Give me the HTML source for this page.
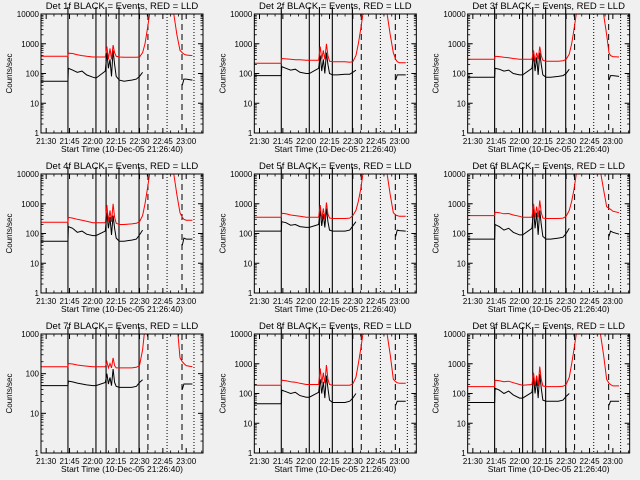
<!DOCTYPE html>
<html><head><meta charset="utf-8"><style>
html,body{margin:0;padding:0;background:#f0f0f0;}
svg{display:block;font-family:"Liberation Sans",sans-serif;}
</style></head><body>
<svg id="chart" width="640" height="480" viewBox="0 0 640 480" xmlns="http://www.w3.org/2000/svg">
<rect width="640" height="480" fill="#f0f0f0"/>
</svg>
<script>
// times in minutes after 21:30
const times = [-3.3,14,14.3,17,20,23,26,30,32,38,39,40,41,42,43,44,45,47,50,55,58,60,62,63.5,65,66.5,68,80,82,84,86,87.5,88.5,90,94];
const N = null;
const detNames = ["1f","2f","3f","4f","5f","6f","7f","8f","9f"];
const yMaxDecades = [4,4,4,4,4,4,3,4,4];
const yTickLabels4 = ["1","10","100","1000","10000"];
const yTickLabels3 = ["1","10","100","1000"];
const xTickLabels = ["21:30","21:45","22:00","22:15","22:30","22:45","23:00"];
const solidLines = [14.0,32.0,38.5,46.8,59.7];
const dashedLines = [65.4,87.3];
const dottedLines = [77.7,95.0];
const red1 = [380,380,480,470,430,400,380,360,360,360,800,300,700,300,900,500,380,360,350,350,350,360,500,1000,3000,10000,30000,30000,10000,2000,600,500,450,420,400];
const blk1 = [55,55,150,130,110,120,90,75,70,120,500,150,300,80,600,200,80,60,55,60,65,80,110,N,N,N,N,N,N,N,N,40,65,65,60];
const red2 = [220,220,320,310,300,290,290,280,280,280,800,300,600,300,1000,400,260,250,250,250,240,250,400,1000,3000,10000,30000,30000,10000,2000,500,300,250,230,230];
const blk2 = [85,85,170,150,130,140,110,100,100,150,400,120,300,100,500,200,100,90,90,95,95,110,130,N,N,N,N,N,N,N,N,60,90,90,90];
const red3 = [300,300,380,370,350,340,320,300,300,300,600,250,500,300,800,400,280,260,260,260,270,300,450,1000,3000,10000,30000,30000,30000,10000,2000,500,400,370,360];
const blk3 = [75,75,150,140,120,130,100,90,90,150,450,120,350,90,500,200,90,75,75,80,85,100,140,N,N,N,N,N,N,N,N,60,85,85,80];
const red4 = [240,240,350,330,300,280,260,230,230,230,900,250,600,250,1000,350,220,200,200,210,220,250,400,1000,3000,10000,30000,30000,10000,2000,500,350,300,280,280];
const blk4 = [55,55,170,150,110,120,95,85,85,120,500,150,350,90,400,150,70,55,55,60,65,90,130,N,N,N,N,N,N,N,N,40,70,65,65];
const red5 = [350,350,480,460,420,400,380,350,350,350,900,300,700,300,1100,450,330,320,320,320,330,400,600,1200,3000,10000,30000,30000,10000,2000,500,420,400,380,380];
const blk5 = [120,120,250,230,190,200,170,160,160,200,600,180,450,160,700,250,130,120,120,120,130,180,250,N,N,N,N,N,N,N,N,80,130,125,120];
const red6 = [400,400,520,500,460,470,420,380,350,350,1000,350,800,350,1300,500,330,320,320,320,330,380,600,1200,3000,10000,30000,30000,12000,3000,800,700,650,560,500];
const blk6 = [65,65,200,170,130,150,110,90,90,150,700,150,500,90,600,200,80,65,65,70,75,100,150,N,N,N,N,N,N,N,N,80,120,110,95];
const red7 = [150,150,180,175,165,160,155,150,150,150,200,140,180,140,250,160,140,140,140,140,145,160,400,1500,3000,10000,30000,30000,10000,2000,250,200,180,160,150];
const blk7 = [50,50,65,62,58,55,52,50,50,60,100,55,80,50,130,60,48,45,45,45,48,60,70,N,N,N,N,N,N,N,N,40,55,55,55];
const red8 = [190,190,280,270,250,240,220,200,200,200,700,220,500,220,900,300,200,190,190,190,190,210,350,1000,3000,10000,30000,30000,10000,2000,300,250,230,220,220];
const blk8 = [45,45,130,115,100,110,85,75,75,110,300,100,250,70,400,150,60,50,50,50,55,70,100,N,N,N,N,N,N,N,N,40,55,55,55];
const red9 = [170,170,280,270,250,260,230,200,190,200,500,180,400,180,800,300,180,170,170,170,175,200,350,1000,3000,10000,30000,30000,10000,2000,300,220,200,180,180];
const blk9 = [50,50,150,130,100,120,90,70,70,110,350,100,300,70,450,150,60,55,55,55,60,80,100,N,N,N,N,N,N,N,N,40,55,55,55];
const redSeries = [red1,red2,red3,red4,red5,red6,red7,red8,red9];
const blkSeries = [blk1,blk2,blk3,blk4,blk5,blk6,blk7,blk8,blk9];

const NS = "http://www.w3.org/2000/svg";
const svg = document.getElementById("chart");
function mk(tag, attrs, parent){ const e=document.createElementNS(NS,tag); for(const k in attrs) e.setAttribute(k,attrs[k]); (parent||svg).appendChild(e); return e; }

const PL=41, PR=203, PT=14, PB=133, XMIN=-3.33, XMAX=100.8;
for(let p=0;p<9;p++){
  const ox = (p%3)*213.33, oy = Math.floor(p/3)*160;
  const g = mk("g",{transform:`translate(${ox},${oy})`});
  
  
  const dec = yMaxDecades[p];
  const xs = t => PL + (t - XMIN)/(XMAX - XMIN)*(PR-PL);
  const ys = v => PB - Math.log10(Math.max(v,1e-3))/dec*(PB-PT);
  const cid = "clip"+p;
  const cp = mk("clipPath",{id:cid},g); mk("rect",{x:PL,y:PT,width:PR-PL,height:PB-PT},cp);
  solidLines.forEach(t=>{ const l=mk("line",{x1:xs(t),x2:xs(t),y1:7,y2:PB,stroke:"#000","stroke-width":1.1},g);
      });
  dashedLines.forEach(t=>{ const l=mk("line",{x1:xs(t),x2:xs(t),y1:PT,y2:PB,stroke:"#000","stroke-width":1,"stroke-dasharray":"6,4"},g);
      });
  dottedLines.forEach(t=>{ const l=mk("line",{x1:xs(t),x2:xs(t),y1:PT,y2:PB,stroke:"#000","stroke-width":1,"stroke-dasharray":"1,2"},g);
      });
  [[blkSeries[p],"#000","black-events-line"],[redSeries[p],"#ff0000","red-lld-line"]].forEach(([arr,col,nm])=>{
    let d="", pen=false;
    arr.forEach((v,i)=>{ if(v===null){pen=false;return;} d+=(pen?"L":"M")+xs(times[i]).toFixed(1)+","+ys(v).toFixed(1)+" "; pen=true; });
    const path=mk("path",{d:d,fill:"none",stroke:col,"stroke-width":1,"clip-path":`url(#${cid})`},g);
     
  });
  const fr=mk("rect",{x:PL,y:PT,width:PR-PL,height:PB-PT,fill:"none",stroke:"#000","stroke-width":1},g);
   
  const labs = dec===4? yTickLabels4 : yTickLabels3;
  labs.forEach((lab,k)=>{
    const y=ys(Math.pow(10,k));
    mk("line",{x1:PL,x2:PL+5,y1:y,y2:y,stroke:"#000"},g); mk("line",{x1:PR-5,x2:PR,y1:y,y2:y,stroke:"#000"},g);
    const t=mk("text",{x:PL-2,y:y+3,"font-size":8,"text-anchor":"end",fill:"#000"},g); t.textContent=lab;
     
    if(k<labs.length-1) for(let m=2;m<10;m++){ const ym=ys(m*Math.pow(10,k));
      mk("line",{x1:PL,x2:PL+2.5,y1:ym,y2:ym,stroke:"#000","stroke-width":0.8},g); mk("line",{x1:PR-2.5,x2:PR,y1:ym,y2:ym,stroke:"#000","stroke-width":0.8},g); }
  });
  xTickLabels.forEach((lab,k)=>{
    const x=xs(k*15);
    mk("line",{x1:x,x2:x,y1:PB,y2:PB-5,stroke:"#000"},g); mk("line",{x1:x,x2:x,y1:PT,y2:PT+5,stroke:"#000"},g);
    const t=mk("text",{x:x,y:PB+11,"font-size":8,"text-anchor":"middle",fill:"#000"},g); t.textContent=lab;
     
  });
  for(let m=0;m<=100;m+=5){ if(m%15===0) continue; const x=xs(m); if(x>PR) continue;
    mk("line",{x1:x,x2:x,y1:PB,y2:PB-2.5,stroke:"#000","stroke-width":0.8},g); mk("line",{x1:x,x2:x,y1:PT,y2:PT+2.5,stroke:"#000","stroke-width":0.8},g); }
  const tt=mk("text",{x:(PL+PR)/2,y:9,"font-size":9.5,"text-anchor":"middle",fill:"#000"},g); tt.textContent=`Det ${detNames[p]} BLACK = Events, RED = LLD`;
   
  const xt=mk("text",{x:(PL+PR)/2,y:PB+19,"font-size":8.5,"text-anchor":"middle",fill:"#000"},g); xt.textContent="Start Time (10-Dec-05 21:26:40)";
   
  const yt=mk("text",{x:0,y:0,"font-size":8,"text-anchor":"middle",fill:"#000",transform:`translate(12,${(PT+PB)/2}) rotate(-90)`},g); yt.textContent="Counts/sec";
   
}
</script>
</body></html>
